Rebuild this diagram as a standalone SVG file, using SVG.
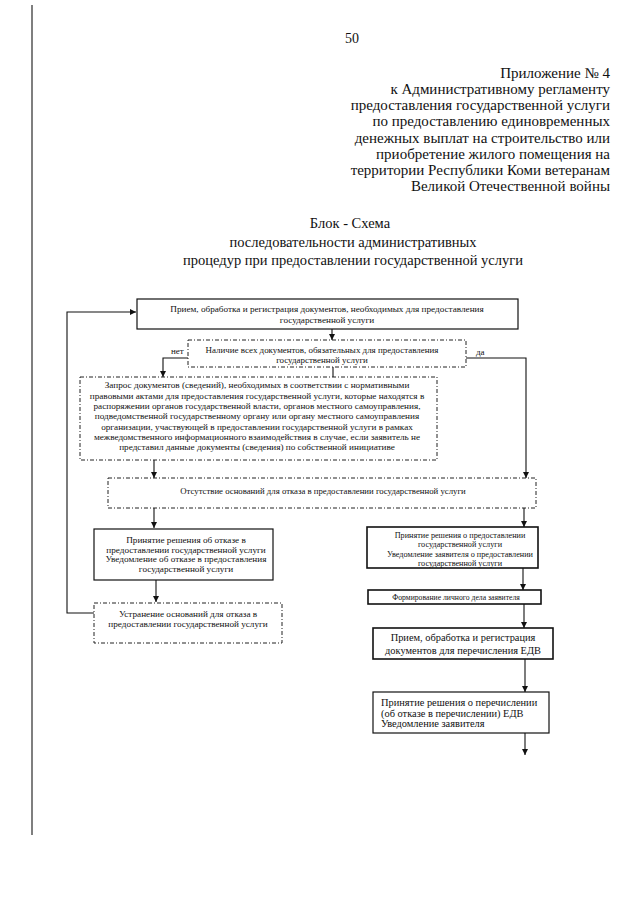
<svg xmlns="http://www.w3.org/2000/svg" width="640" height="905" viewBox="0 0 640 905">
<style>
  text { font-family: "Liberation Serif", "Times New Roman", serif; fill: #111; }
  .hdr { font-size: 15px; text-anchor: end; }
  .ttl { font-size: 14.5px; text-anchor: middle; }
  .s { font-size: 9.2px; text-anchor: middle; }
  .m { font-size: 10.4px; text-anchor: middle; }
  .ml { font-size: 10.4px; }
  .lbl { font-size: 9px; }
  .solid { fill: #fff; stroke: #111; stroke-width: 1.2; }
  .thick { fill: #fff; stroke: #111; stroke-width: 1.6; }
  .dd { fill: #fff; stroke: #222; stroke-width: 1; stroke-dasharray: 4 2 1 2; }
  .conn { fill: none; stroke: #111; stroke-width: 1.1; }
</style>
<defs>
  <marker id="arr" viewBox="0 0 10 10" refX="10" refY="5" markerWidth="6" markerHeight="6" markerUnits="userSpaceOnUse" orient="auto">
    <path d="M0,0 L10,5 L0,10 Z" fill="#111"/>
  </marker>
</defs>
<rect width="640" height="905" fill="#fff"/>
<line x1="32" y1="5" x2="32" y2="835" stroke="#555" stroke-width="1.5"/>

<g id="header">
  <text x="352" y="43" style="font-size:14px;text-anchor:middle">50</text>
  <text class="hdr" x="610" y="78">Приложение № 4</text>
  <text class="hdr" x="610" y="94">к Административному регламенту</text>
  <text class="hdr" x="610" y="110">предоставления государственной услуги</text>
  <text class="hdr" x="610" y="126">по предоставлению единовременных</text>
  <text class="hdr" x="610" y="143">денежных выплат на строительство или</text>
  <text class="hdr" x="610" y="159">приобретение жилого помещения на</text>
  <text class="hdr" x="610" y="175">территории Республики Коми ветеранам</text>
  <text class="hdr" x="610" y="191">Великой Отечественной войны</text>
</g>

<g id="title">
  <text class="ttl" x="350" y="228">Блок - Схема</text>
  <text class="ttl" x="353" y="247">последовательности административных</text>
  <text class="ttl" x="353" y="265">процедур при предоставлении государственной услуги</text>
</g>

<g id="connectors">
  <polyline class="conn" points="94,613 67,613 67,312 136,312" marker-end="url(#arr)"/>
  <line class="conn" x1="332" y1="329" x2="332" y2="340" marker-end="url(#arr)"/>
  <polyline class="conn" points="188,358 163,358 163,377" marker-end="url(#arr)"/>
  <line class="conn" x1="333" y1="367" x2="333" y2="377"/>
  <polyline class="conn" points="466,358 526,358 526,478" marker-end="url(#arr)"/>
  <line class="conn" x1="154" y1="460" x2="154" y2="478" marker-end="url(#arr)"/>
  <line class="conn" x1="154" y1="508" x2="154" y2="528" marker-end="url(#arr)"/>
  <line class="conn" x1="524" y1="508" x2="524" y2="527" marker-end="url(#arr)"/>
  <line class="conn" x1="156" y1="580" x2="156" y2="602" marker-end="url(#arr)"/>
  <line class="conn" x1="523" y1="568" x2="523" y2="590" marker-end="url(#arr)"/>
  <line class="conn" x1="524" y1="604" x2="524" y2="628" marker-end="url(#arr)"/>
  <line class="conn" x1="525" y1="659" x2="525" y2="692" marker-end="url(#arr)"/>
  <line class="conn" x1="525" y1="733" x2="525" y2="755" marker-end="url(#arr)"/>
  <text class="lbl" x="171" y="354">нет</text>
  <text class="lbl" x="476" y="355">да</text>
</g>

<g id="n1">
  <rect class="solid" x="137" y="299" width="381" height="30"/>
  <text class="s" x="327" y="312">Прием, обработка и регистрация документов, необходимых для предоставления</text>
  <text class="s" x="327" y="323">государственной услуги</text>
</g>

<g id="n2">
  <rect class="dd" x="188" y="340" width="278" height="27"/>
  <text class="s" x="322" y="353" style="font-size:8.95px">Наличие всех документов, обязательных для предоставления</text>
  <text class="s" x="322" y="363" style="font-size:8.95px">государственной услуги</text>
</g>

<g id="n3">
  <rect class="dd" x="80" y="377" width="357" height="83"/>
  <text class="s" x="257" y="388">Запрос документов (сведений), необходимых в соответствии с нормативными</text>
  <text class="s" x="257" y="398.5">правовыми актами для предоставления государственной услуги, которые находятся в</text>
  <text class="s" x="257" y="409">распоряжении органов государственной власти, органов местного самоуправления,</text>
  <text class="s" x="257" y="419">подведомственной государственному органу или органу местного самоуправления</text>
  <text class="s" x="257" y="429.5">организации, участвующей в предоставлении государственной услуги в рамках</text>
  <text class="s" x="257" y="440">межведомственного информационного взаимодействия в случае, если заявитель не</text>
  <text class="s" x="257" y="450">представил данные документы (сведения) по  собственной инициативе</text>
</g>

<g id="n4">
  <rect class="dd" x="108" y="478" width="428" height="30"/>
  <text class="s" x="323" y="494" style="font-size:8.75px">Отсутствие оснований для отказа в предоставлении государственной услуги</text>
</g>

<g id="n5">
  <rect class="solid" x="94" y="529" width="179" height="51"/>
  <text class="s" x="186" y="543">Принятие решения об отказе в</text>
  <text class="s" x="186" y="552.5">предоставлении государственной услуги</text>
  <text class="s" x="186" y="562">Уведомление об отказе в предоставления</text>
  <text class="s" x="186" y="571.5">государственной услуги</text>
</g>

<g id="n6">
  <rect class="dd" x="94" y="603" width="188" height="40"/>
  <text class="s" x="188" y="617">Устранение оснований для отказа в</text>
  <text class="s" x="188" y="626.5">предоставлении государственной услуги</text>
</g>

<g id="n7">
  <rect class="thick" x="367" y="527" width="171" height="41"/>
  <text class="s" x="460" y="537.5" style="font-size:8.2px">Принятие решения о предоставлении</text>
  <text class="s" x="460" y="547" style="font-size:8.2px">государственной услуги</text>
  <text class="s" x="460" y="556.5" style="font-size:8.2px">Уведомление заявителя о предоставлении</text>
  <text class="s" x="460" y="566" style="font-size:8.2px">государственной услуги</text>
</g>

<g id="n8">
  <rect class="thick" x="368" y="590" width="173" height="14"/>
  <text class="s" x="456" y="600" style="font-size:7.7px">Формирование личного дела заявителя</text>
</g>

<g id="n9">
  <rect class="thick" x="373" y="628" width="180" height="31"/>
  <text class="m" x="463" y="641">Прием, обработка и регистрация</text>
  <text class="m" x="463" y="654">документов для перечисления ЕДВ</text>
</g>

<g id="n10">
  <rect class="solid" x="373" y="692" width="176" height="41"/>
  <text class="ml" x="381" y="706">Принятие решения о перечислении</text>
  <text class="ml" x="381" y="716.5">(об отказе в перечислении) ЕДВ</text>
  <text class="ml" x="381" y="727">Уведомление заявителя</text>
</g>
</svg>
